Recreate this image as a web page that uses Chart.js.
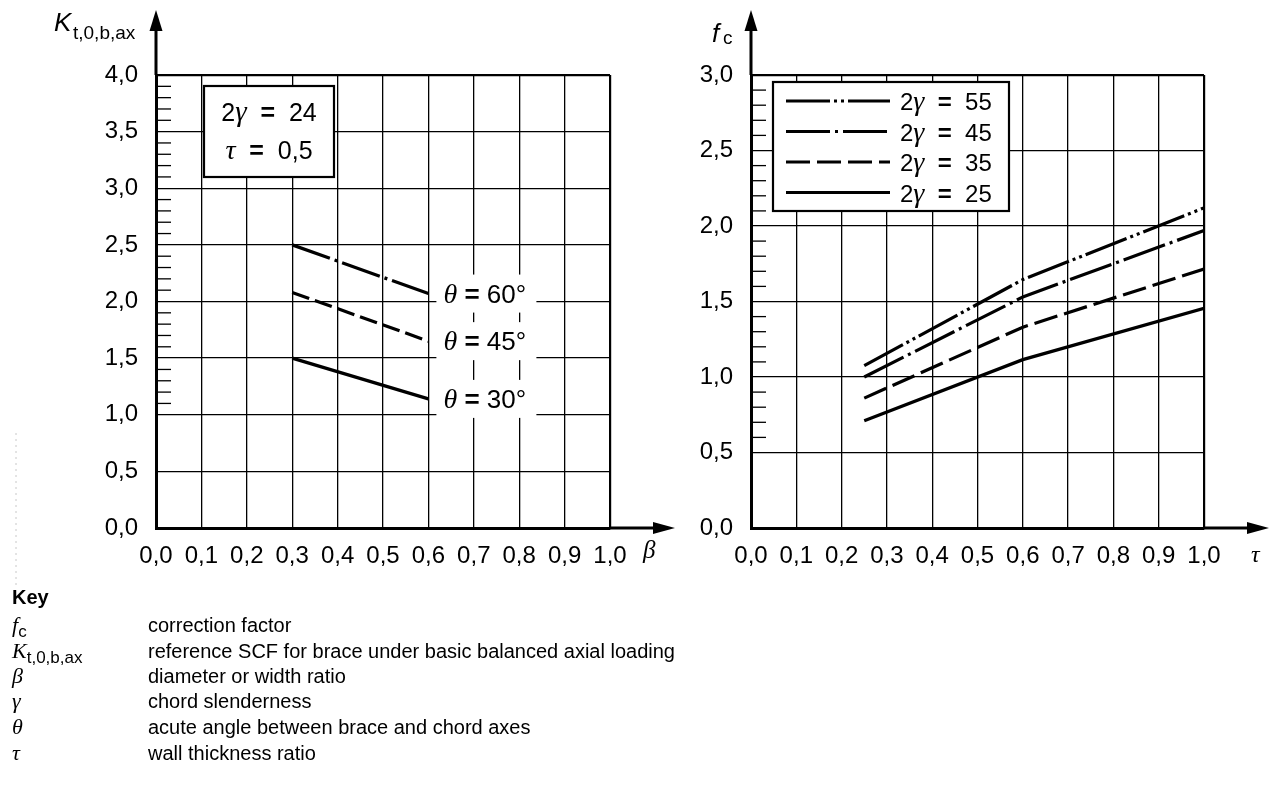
<!DOCTYPE html>
<html>
<head>
<meta charset="utf-8">
<script src="https://cdn.jsdelivr.net/npm/chart.js@4.4.0/dist/chart.umd.min.js"></script>
<style>
  html, body { margin: 0; padding: 0; background: #fff; }
  #wrap { position: relative; width: 1279px; height: 809px; overflow: hidden; font-family: "Liberation Sans", Arial, sans-serif; }
  canvas { position: absolute; left: 0; top: 0; }
  .row { position: absolute; font-size: 20px; line-height: 22px; color: #000; white-space: nowrap; }
  .sym { font-family: "Liberation Serif", "Times New Roman", serif; font-style: italic; font-size: 22px; }
  .sub { font-family: "Liberation Sans", Arial, sans-serif; font-style: normal; font-size: 17px; position: relative; top: 5px; }
</style>
</head>
<body>
<div id="wrap">
  <canvas id="left" width="1279" height="809"></canvas>
  <canvas id="right" width="1279" height="809"></canvas>
  <div id="key"></div>
</div>
<script>
// left chart: K(t,0,b,ax) against beta, 2gamma = 24, tau = 0,5
const betaValues = [0.3, 0.6];
const k60 = [2.50, 2.07];
const k45 = [2.08, 1.65];
const k30 = [1.50, 1.14];
const thetaLabels = ["60°", "45°", "30°"];
const boxGamma = "24";
const boxTau = "0,5";

// right chart: correction factor fc against tau
const tauValues = [0.25, 0.6, 1.0];
const fc55 = [1.075, 1.645, 2.12];
const fc45 = [1.0, 1.53, 1.97];
const fc35 = [0.86, 1.33, 1.715];
const fc25 = [0.71, 1.115, 1.455];
const gammaLabels = ["55", "45", "35", "25"];

const keySymbols = [
  '<span class="sym">f</span><span class="sub">c</span>',
  '<span class="sym">K</span><span class="sub">t,0,b,ax</span>',
  '<span class="sym">β</span>',
  '<span class="sym">γ</span>',
  '<span class="sym">θ</span>',
  '<span class="sym">τ</span>'
];
const keyTexts = [
  "correction factor",
  "reference SCF for brace under basic balanced axial loading",
  "diameter or width ratio",
  "chord slenderness",
  "acute angle between brace and chord axes",
  "wall thickness ratio"
];

const SANS = '"Liberation Sans", Arial, sans-serif';
const SERIF = '"Liberation Serif", "Times New Roman", serif';

function fmt(v) { return Number(v).toFixed(1).replace(".", ","); }
function pts(xs, ys) { return xs.map((x, i) => ({ x: x, y: ys[i] })); }

// text made of runs in different fonts, y is the baseline
function drawRuns(ctx, parts, x, y, align) {
  let w = 0;
  parts.forEach(p => { ctx.font = p[1]; w += ctx.measureText(p[0]).width; });
  let px = align === "center" ? x - w / 2 : x;
  ctx.textAlign = "left";
  ctx.textBaseline = "alphabetic";
  ctx.fillStyle = "#000";
  parts.forEach(p => { ctx.font = p[1]; ctx.fillText(p[0], px, y); px += ctx.measureText(p[0]).width; });
}

// "2γ = 55" style label
function gammaText(value, size) {
  return [["2", size + "px " + SANS], ["γ", "italic " + (size + 4) + "px " + SERIF], ["  ", size + "px " + SANS],
          ["=", "bold " + size + "px " + SANS], ["  " + value, size + "px " + SANS]];
}

function minorTicks(chart, from, to) {
  const { ctx, chartArea: a, scales: { y } } = chart;
  ctx.save();
  ctx.strokeStyle = "#000";
  ctx.lineWidth = 1.3;
  for (let i = Math.round(from * 10); i <= Math.round(to * 10); i++) {
    if (i % 5 === 0) continue;
    const py = y.getPixelForValue(i / 10);
    ctx.beginPath();
    ctx.moveTo(a.left, py);
    ctx.lineTo(a.left + 15, py);
    ctx.stroke();
  }
  ctx.restore();
}

function arrows(chart) {
  const { ctx, chartArea: a } = chart;
  ctx.save();
  ctx.strokeStyle = "#000";
  ctx.fillStyle = "#000";
  ctx.lineWidth = 3;
  ctx.beginPath();
  ctx.moveTo(a.left, a.top);
  ctx.lineTo(a.left, 28);
  ctx.moveTo(a.right, a.bottom);
  ctx.lineTo(a.right + 46, a.bottom);
  ctx.stroke();
  ctx.beginPath();
  ctx.moveTo(a.left, 10);
  ctx.lineTo(a.left - 6.5, 31);
  ctx.lineTo(a.left + 6.5, 31);
  ctx.closePath();
  ctx.fill();
  ctx.beginPath();
  ctx.moveTo(a.right + 65, a.bottom);
  ctx.lineTo(a.right + 43, a.bottom - 6);
  ctx.lineTo(a.right + 43, a.bottom + 6);
  ctx.closePath();
  ctx.fill();
  ctx.restore();
}

function makeScales(yMax, yWidth) {
  const tickFont = { family: SANS, size: 24 };
  return {
    x: {
      type: "linear", min: 0, max: 1,
      afterFit: s => { s.height = 50; },
      ticks: { stepSize: 0.1, padding: 14, color: "#000", font: tickFont, callback: v => fmt(v), maxRotation: 0, autoSkip: false },
      grid: { color: "#000", drawTicks: false, lineWidth: c => (c.tick && Math.abs(c.tick.value - 1) < 1e-6 ? 2.2 : 1.3) },
      border: { display: true, color: "#000", width: 3 }
    },
    y: {
      type: "linear", min: 0, max: yMax,
      afterFit: s => { s.width = yWidth; },
      ticks: { stepSize: 0.5, padding: 18, color: "#000", font: tickFont, callback: v => fmt(v) },
      grid: { color: "#000", drawTicks: false, lineWidth: c => (c.tick && Math.abs(c.tick.value - yMax) < 1e-6 ? 2.2 : 1.3) },
      border: { display: true, color: "#000", width: 3 }
    }
  };
}

function lineSet(data, dash) {
  return { data: data, borderColor: "#000", borderWidth: 3.2, borderDash: dash, borderCapStyle: "butt", pointRadius: 0, tension: 0, fill: false };
}

new Chart(document.getElementById("left"), {
  type: "line",
  data: {
    datasets: [
      lineSet(pts(betaValues, k60), [40, 5, 3, 5]),
      lineSet(pts(betaValues, k45), [18, 6]),
      lineSet(pts(betaValues, k30), [])
    ]
  },
  options: {
    responsive: false, animation: false,
    layout: { padding: { left: 0, right: 669, top: 75, bottom: 231 } },
    plugins: { legend: { display: false }, tooltip: { enabled: false } },
    scales: makeScales(4, 156)
  },
  plugins: [{
    id: "leftDecor",
    afterDatasetsDraw(chart) {
      const { ctx, chartArea: a, scales: { x, y } } = chart;
      ctx.save();
      chart.data.datasets.forEach((ds, i) => {
        const last = ds.data[ds.data.length - 1];
        const px = x.getPixelForValue(last.x), py = y.getPixelForValue(last.y);
        ctx.fillStyle = "#fff";
        ctx.fillRect(px + 8, py - 19, 100, 38);
        drawRuns(ctx, [["θ", "italic 28px " + SERIF], [" ", "26px " + SANS], ["=", "bold 26px " + SANS], [" " + thetaLabels[i], "26px " + SANS]], px + 15, py + 9);
      });
      // parameter box
      ctx.fillStyle = "#fff";
      ctx.fillRect(a.left + 48, a.top + 11, 130, 91);
      ctx.strokeStyle = "#000";
      ctx.lineWidth = 2.2;
      ctx.strokeRect(a.left + 48, a.top + 11, 130, 91);
      drawRuns(ctx, gammaText(boxGamma, 25), a.left + 113, a.top + 46, "center");
      drawRuns(ctx, [["τ", "italic 28px " + SERIF], ["  ", "25px " + SANS], ["=", "bold 25px " + SANS], ["  " + boxTau, "25px " + SANS]], a.left + 113, a.top + 84, "center");
      ctx.restore();
    },
    afterDraw(chart) {
      const { ctx } = chart;
      minorTicks(chart, 1.0, 4.0);
      arrows(chart);
      ctx.save();
      drawRuns(ctx, [["K", "italic 26px " + SANS]], 54, 31);
      drawRuns(ctx, [["t,0,b,ax", "19px " + SANS]], 73, 39);
      drawRuns(ctx, [["β", "italic 25px " + SERIF]], 643, 558);
      // faint scan marks at the left edge
      ctx.strokeStyle = "#c8c8c8";
      ctx.lineWidth = 1;
      ctx.setLineDash([2, 4]);
      ctx.beginPath();
      ctx.moveTo(16, 433);
      ctx.lineTo(16, 588);
      ctx.stroke();
      ctx.restore();
    }
  }]
});

new Chart(document.getElementById("right"), {
  type: "line",
  data: {
    datasets: [
      lineSet(pts(tauValues, fc55), [44, 4, 3, 4, 3, 4]),
      lineSet(pts(tauValues, fc45), [44, 5, 3, 5]),
      lineSet(pts(tauValues, fc35), [24, 7]),
      lineSet(pts(tauValues, fc25), [])
    ]
  },
  options: {
    responsive: false, animation: false,
    layout: { padding: { left: 651, right: 75, top: 75, bottom: 231 } },
    plugins: { legend: { display: false }, tooltip: { enabled: false } },
    scales: makeScales(3, 100)
  },
  plugins: [{
    id: "rightDecor",
    afterDatasetsDraw(chart) {
      const { ctx, chartArea: a } = chart;
      ctx.save();
      const bx = a.left + 22, by = a.top + 7;
      ctx.fillStyle = "#fff";
      ctx.fillRect(bx, by, 236, 129);
      ctx.strokeStyle = "#000";
      ctx.lineWidth = 2.2;
      ctx.strokeRect(bx, by, 236, 129);
      chart.data.datasets.forEach((ds, i) => {
        const ry = a.top + 26 + i * 30.5;
        ctx.lineWidth = 3.2;
        ctx.lineCap = "butt";
        ctx.setLineDash(ds.borderDash);
        ctx.beginPath();
        ctx.moveTo(a.left + 35, ry);
        ctx.lineTo(a.left + 139, ry);
        ctx.stroke();
        ctx.setLineDash([]);
        drawRuns(ctx, gammaText(gammaLabels[i], 24), a.left + 149, ry + 9);
      });
      ctx.restore();
    },
    afterDraw(chart) {
      const { ctx } = chart;
      minorTicks(chart, 0.5, 3.0);
      arrows(chart);
      ctx.save();
      drawRuns(ctx, [["f", "italic 26px " + SANS]], 712, 42);
      drawRuns(ctx, [["c", "19px " + SANS]], 723, 44);
      drawRuns(ctx, [["τ", "italic 24px " + SERIF]], 1251, 562);
      ctx.restore();
    }
  }]
});

// key below the charts
const key = document.getElementById("key");
const head = document.createElement("div");
head.className = "row";
head.style.left = "12px";
head.style.top = "586px";
head.style.fontWeight = "bold";
head.textContent = "Key";
key.appendChild(head);
const rowY = [614, 640, 665, 690, 716, 742];
keySymbols.forEach((s, i) => {
  const sym = document.createElement("div");
  sym.className = "row";
  sym.style.left = "12px";
  sym.style.top = rowY[i] + "px";
  sym.innerHTML = s;
  key.appendChild(sym);
  const txt = document.createElement("div");
  txt.className = "row";
  txt.style.left = "148px";
  txt.style.top = rowY[i] + "px";
  txt.textContent = keyTexts[i];
  key.appendChild(txt);
});
</script>
</body>
</html>
